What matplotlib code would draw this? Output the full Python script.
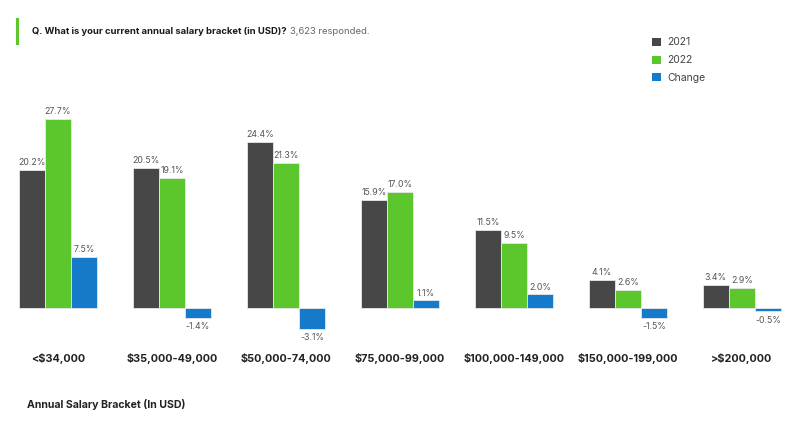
import numpy as np
import matplotlib.pyplot as plt
from matplotlib.lines import Line2D
from matplotlib.patches import Patch

plt.rcParams['font.family'] = ['Inter', 'DejaVu Sans']

brackets = ['<$34,000', '$35,000-49,000', '$50,000-74,000', '$75,000-99,000',
            '$100,000-149,000', '$150,000-199,000', '>$200,000']
y2021 = [20.2, 20.5, 24.4, 15.9, 11.5, 4.1, 3.4]
y2022 = [27.7, 19.1, 21.3, 17.0, 9.5, 2.6, 2.9]
change = [7.5, -1.4, -3.1, 1.1, 2.0, -1.5, -0.5]

c_dark = '#474747'
c_green = '#5cc72c'
c_blue = '#167acb'

W, H = 796, 445
fig = plt.figure(figsize=(W / 100, H / 100), dpi=100)
# axes spanning full width, zero line at y ~ 308 px
ax = fig.add_axes([0, (H - 340) / H, 1, 250 / H])
ax.set_xlim(-58 / 114, (W - 58) / 114)
ax.set_ylim(-(340 - 308) / 6.82, (308 - 90) / 6.82)
ax.axis('off')

x = np.arange(len(brackets))
w = 0.228
series = [(y2021, c_dark, '2021', -w), (y2022, c_green, '2022', 0), (change, c_blue, 'Change', w)]
for vals, col, lab, off in series:
    bars = ax.bar(x + off, vals, w, color=col, edgecolor='#e8e8e8', linewidth=0.6, label=lab)
    for b, v in zip(bars, vals):
        cx = b.get_x() + b.get_width() / 2
        if v >= 0:
            ax.annotate(f'{v:.1f}%', (cx, v), xytext=(0, 2), textcoords='offset points',
                        ha='center', va='bottom', fontsize=6.3, color='#555555')
        else:
            ax.annotate(f'{v:.1f}%', (cx, v), xytext=(0, -3), textcoords='offset points',
                        ha='center', va='top', fontsize=6.3, color='#555555')

# category labels
for xi, lab in zip(x, brackets):
    ax.text(xi, -(358 - 308) / 6.82, lab, ha='center', va='center',
            fontsize=7.8, fontweight='bold', color='#222222', clip_on=False)

# header
fig.add_artist(Line2D([17 / W, 17 / W], [1 - 19 / H, 1 - 43 / H], color='#5cc72c', linewidth=2.2))
t = fig.text(32 / W, 1 - 31 / H, 'Q. What is your current annual salary bracket (in USD)?',
             fontsize=6.8, fontweight='bold', color='#1a1a1a', va='center')
fig.canvas.draw()
bb = t.get_window_extent()
fig.text((bb.x1 + 3) / W, 1 - 31 / H, '3,623 responded.', fontsize=6.8, color='#666666', va='center')

# x axis title
fig.text(27 / W, 1 - 404 / H, 'Annual Salary Bracket (In USD)', fontsize=7.6,
         fontweight='bold', color='#222222', va='center')

handles = [Patch(facecolor=c, edgecolor='none') for c in (c_dark, c_green, c_blue)]
fig.legend(handles, ['2021', '2022', 'Change'], loc='upper left',
           bbox_to_anchor=(643 / W, 1 - 28 / H), frameon=False, fontsize=7.5,
           handlelength=0.8, handleheight=0.8, handletextpad=0.6, labelspacing=0.75,
           labelcolor='#444444')

fig.savefig('out.png', dpi=100)
